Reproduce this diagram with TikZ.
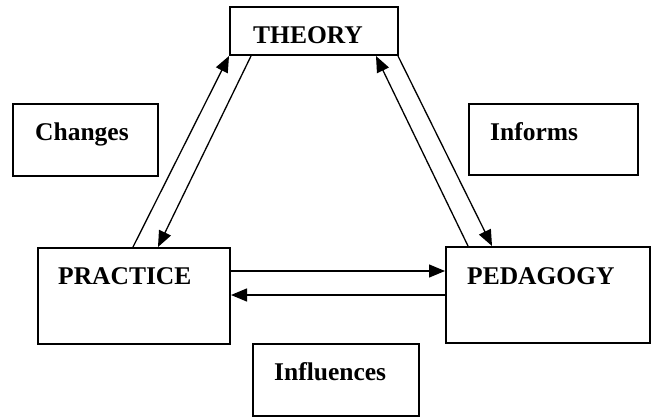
\documentclass[tikz,border=0pt]{standalone}
\usepackage{fontspec}
\setmainfont{Liberation Serif}
\usetikzlibrary{arrows.meta,calc}
\begin{document}
\begin{tikzpicture}[x=1pt,y=-1pt,
  box/.style={draw,line width=2pt,inner sep=0pt,minimum width=#1},
  lbl/.style={anchor=base west,inner sep=0pt,font=\fontsize{25.5}{30}\selectfont\bfseries},
  arr/.style={line width=1.3pt,-{Triangle[length=16pt,width=13pt]}}]
\useasboundingbox (0,0) rectangle (652,417);
\node[box=168pt,minimum height=48pt] (theory) at (314,31) {};
\node[box=145pt,minimum height=72pt] (changes) at (85.5,140) {};
\node[box=169pt,minimum height=71pt] (informs) at (553.5,139.5) {};
\node[box=192pt,minimum height=96pt] (practice) at (134,296) {};
\node[box=204pt,minimum height=96pt] (pedagogy) at (548,295) {};
\node[box=166pt,minimum height=72pt] (influences) at (336,380) {};
\node[lbl] (theoryT) at (253,44) {THEORY};
\node[lbl] (changesT) at (35,140) {Changes};
\node[lbl] (informsT) at (490,140) {Informs};
\node[lbl] (practiceT) at (58,284) {PRACTICE};
\node[lbl] (pedagogyT) at (467,284) {PEDAGOGY};
\node[lbl] (influencesT) at (274,380) {Influences};
% left pair
\draw[arr] ($(practice.north west)+(96,0)$) -- (theory.south west);
\draw[arr] ($(theory.south west)+(22,0)$) -- ($(practice.north west)+(121,0)$);
% right pair
\draw[arr] ($(theory.south east)+(-1,0)$) -- ($(pedagogy.north west)+(47,0)$);
\draw[arr] ($(pedagogy.north west)+(23,0)$) -- ($(theory.south east)+(-23,0)$);
% horizontal pair
\draw[arr] ($(practice.north east)+(0,24)$) -- ($(pedagogy.north west)+(0,25)$);
\draw[arr] ($(pedagogy.north west)+(0,49)$) -- ($(practice.north east)+(0,48)$);
\end{tikzpicture}
\end{document}
